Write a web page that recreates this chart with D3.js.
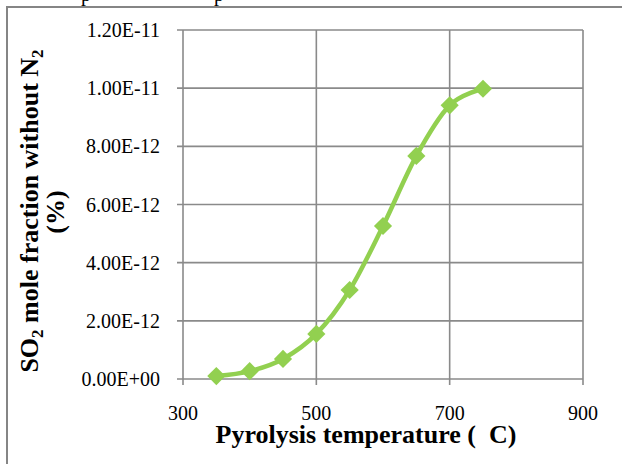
<!DOCTYPE html>
<html>
<head>
<meta charset="utf-8">
<script src="https://cdn.jsdelivr.net/npm/d3@7"></script>
<style>
  body { margin: 0; background: #fff; }
  svg { display: block; }
  text { font-family: "Liberation Serif", "Times New Roman", serif; fill: #000; }
</style>
</head>
<body>
<div id="chart"></div>
<script>
// data
const temps = [350, 400, 450, 500, 550, 600, 650, 700, 750];
const so2 = [1.0e-13, 2.7e-13, 6.9e-13, 1.55e-12, 3.06e-12, 5.26e-12, 7.67e-12, 9.41e-12, 9.98e-12];
const xTicks = [300, 500, 700, 900];
const yTicks = [0, 2e-12, 4e-12, 6e-12, 8e-12, 1e-11, 1.2e-11];

const width = 622, height = 464;
const margin = {left: 183, right: 39, top: 30, bottom: 85};
const gridColor = "#8a8a8a";
const green = "#92D050";

let svg = d3.select("#chart")
  .append("svg")
  .attr("width", width)
  .attr("height", height);

// frame of the surrounding box (only top and left are visible)
svg.append("path")
  .attr("d", "M7,464 V7 H622")
  .attr("fill", "none")
  .attr("stroke", "#858585")
  .attr("stroke-width", 2);

// descenders of the text line above, cut off by the crop
svg.append("text").attr("x", 81).attr("y", 1).style("font-size", "20px").text("p");
svg.append("text").attr("x", 214).attr("y", 1).style("font-size", "20px").text("p");

let x = d3.scaleLinear()
  .domain([300, 900])
  .range([margin.left, width - margin.right]);

let y = d3.scaleLinear()
  .domain([0, 1.2e-11])
  .range([height - margin.bottom, margin.top]);

let fmtY = d => d === 0 ? "0.00E+00" : d3.format(".2e")(d).replace("e", "E").replace(/E-(\d)$/, "E-0$1").toUpperCase();

// horizontal gridlines
svg.append("g")
  .selectAll("line")
  .data(yTicks)
  .enter()
    .append("line")
    .attr("x1", x(300) - 6)
    .attr("x2", x(900))
    .attr("y1", d => y(d))
    .attr("y2", d => y(d))
    .attr("stroke", gridColor)
    .attr("stroke-width", 1.6);

// vertical gridlines (down through the axis as ticks)
svg.append("g")
  .selectAll("line")
  .data(xTicks)
  .enter()
    .append("line")
    .attr("x1", d => x(d))
    .attr("x2", d => x(d))
    .attr("y1", y(1.2e-11))
    .attr("y2", y(0) + 6)
    .attr("stroke", gridColor)
    .attr("stroke-width", 1.6);

// y tick labels
svg.append("g")
  .selectAll("text")
  .data(yTicks)
  .enter()
    .append("text")
    .attr("x", 160)
    .attr("y", d => y(d))
    .attr("dy", "0.35em")
    .attr("text-anchor", "end")
    .style("font-size", "20px")
    .text(d => fmtY(d));

// x tick labels
svg.append("g")
  .selectAll("text")
  .data(xTicks)
  .enter()
    .append("text")
    .attr("x", d => x(d))
    .attr("y", 420)
    .attr("text-anchor", "middle")
    .style("font-size", "20px")
    .text(d => d);

// series
let line = d3.line()
  .x((d, i) => x(temps[i]))
  .y(d => y(d))
  .curve(d3.curveCardinal.tension(0));

svg.append("path")
  .datum(so2)
  .attr("d", line)
  .attr("fill", "none")
  .attr("stroke", green)
  .attr("stroke-width", 4.5)
  .attr("stroke-linejoin", "round");

svg.append("g")
  .selectAll("path")
  .data(so2)
  .enter()
    .append("path")
    .attr("d", d3.symbol().type(d3.symbolSquare).size(165))
    .attr("transform", (d, i) => `translate(${x(temps[i])},${y(d)}) rotate(45)`)
    .attr("fill", green);

// axis titles
svg.append("text")
  .attr("x", 366)
  .attr("y", 443)
  .attr("text-anchor", "middle")
  .style("font-size", "26px")
  .style("font-weight", "bold")
  .style("white-space", "pre")
  .text("Pyrolysis temperature (  C)");

let yTitle = svg.append("text")
  .attr("transform", "translate(38,211) rotate(-90)")
  .attr("text-anchor", "middle")
  .style("font-size", "26px")
  .style("font-weight", "bold");
yTitle.append("tspan").text("SO");
yTitle.append("tspan").attr("dy", 5).style("font-size", "17px").text("2");
yTitle.append("tspan").attr("dy", -5).text(" mole fraction without N");
yTitle.append("tspan").attr("dy", 5).style("font-size", "17px").text("2");

svg.append("text")
  .attr("transform", "translate(64,212) rotate(-90)")
  .attr("text-anchor", "middle")
  .style("font-size", "26px")
  .style("font-weight", "bold")
  .text("(%)");
</script>
</body>
</html>
